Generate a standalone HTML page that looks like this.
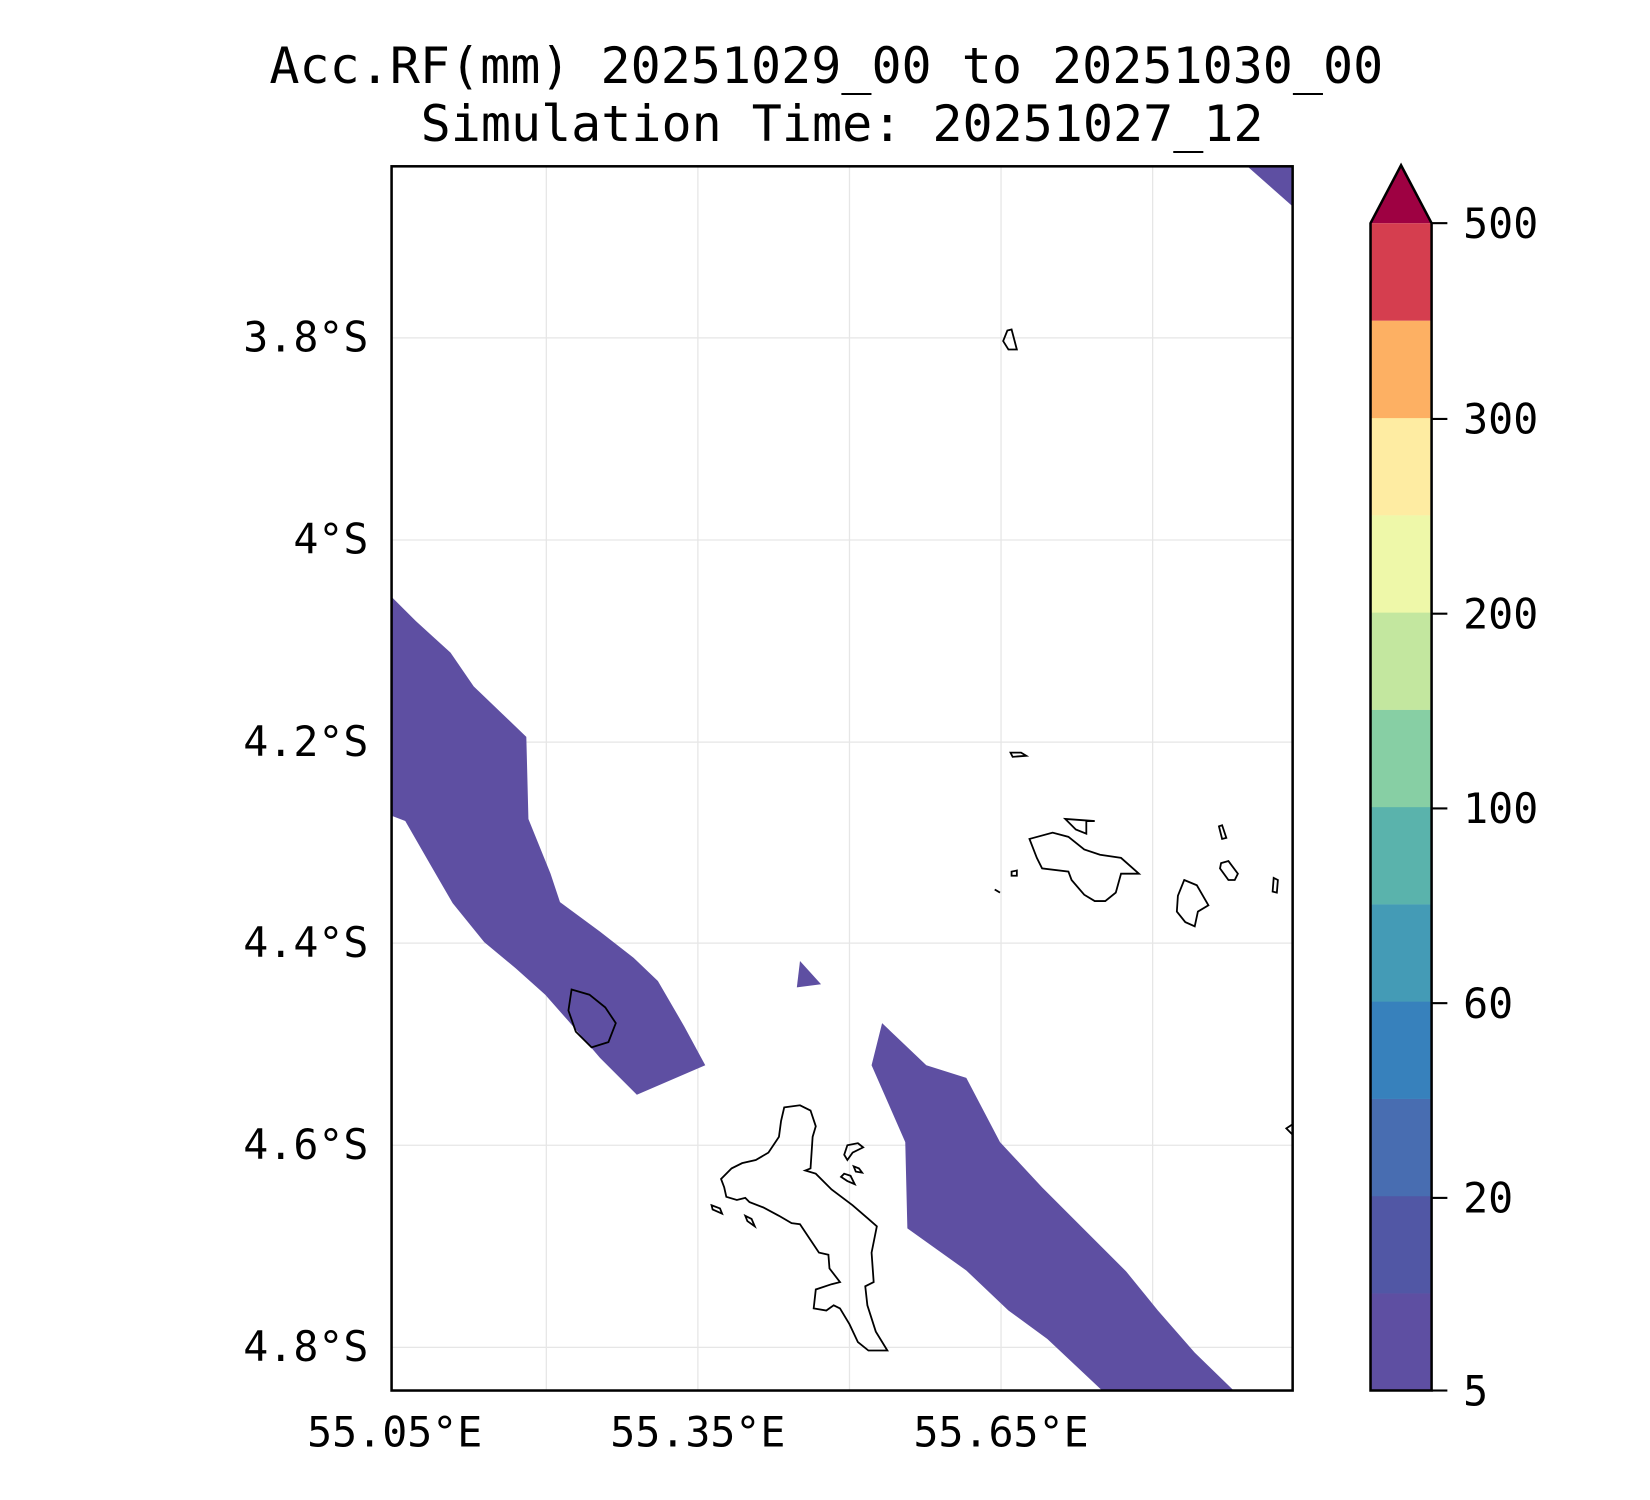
<!DOCTYPE html>
<html><head><meta charset="utf-8"><style>
html,body{margin:0;padding:0;background:#fff;}
svg{display:block;}
text{font-family:"DejaVu Sans Mono","Liberation Mono",monospace;fill:#000;}
</style></head><body>
<svg width="1650" height="1500" viewBox="0 0 1567.5 1425" xmlns="http://www.w3.org/2000/svg">
<rect width="1567.5" height="1425" fill="#fff"/>
<text x="785" y="79" font-size="47.5" text-anchor="middle">Acc.RF(mm) 20251029_00 to 20251030_00</text>
<text x="800" y="134" font-size="47.5" text-anchor="middle">Simulation Time: 20251027_12</text>
<g stroke="#e6e6e6" stroke-width="1.2">
<line x1="519" y1="158" x2="519" y2="1321"/><line x1="663" y1="158" x2="663" y2="1321"/>
<line x1="807" y1="158" x2="807" y2="1321"/><line x1="951" y1="158" x2="951" y2="1321"/>
<line x1="1095" y1="158" x2="1095" y2="1321"/>
<line x1="372" y1="321" x2="1228" y2="321"/><line x1="372" y1="513" x2="1228" y2="513"/>
<line x1="372" y1="705" x2="1228" y2="705"/><line x1="372" y1="896" x2="1228" y2="896"/>
<line x1="372" y1="1088" x2="1228" y2="1088"/><line x1="372" y1="1280" x2="1228" y2="1280"/>
</g>
<g fill="#5e4fa2">
<polygon points="372,567 395,590 428,620 450,652 500,700 502,778 523,830 532,857 570,885 602,910 625,932 650,975 670,1012 605,1040 570,1005 540,970 518,945 490,920 460,895 430,858 408,820 385,780 372,775"/>
<polygon points="760,913 780,935 757,938"/>
<polygon points="838,972 880,1012 918,1024 950,1085 990,1128 1030,1168 1070,1208 1100,1245 1135,1285 1172,1321 1047,1321 995,1272 958,1245 918,1207 862,1167 860,1085 828,1012"/>
<polygon points="1185,158 1228,158 1228,196"/>
</g>
<g fill="none" stroke="#000" stroke-width="1.7">
<polygon points="745,1052 760,1050 770,1055 775,1070 772,1080 770,1110 765,1112 775,1115 790,1130 810,1145 825,1158 833,1165 828,1190 830,1218 822,1222 824,1240 832,1265 843,1283 825,1283 815,1275 807,1258 798,1243 792,1240 785,1245 773,1243 775,1225 790,1220 798,1218 788,1205 787,1192 778,1190 770,1178 760,1163 752,1162 740,1155 725,1147 712,1142 708,1138 700,1140 690,1137 688,1128 685,1120 695,1110 705,1105 718,1102 730,1095 740,1080 742,1065"/>
<polygon points="543,940 560,945 575,957 585,972 578,990 562,995 547,980 540,960"/>
<polygon points="978,797 1000,791 1015,795 1030,807 1045,812 1065,815 1082,830 1065,830 1060,848 1050,856 1040,856 1030,850 1018,836 1015,828 990,825 985,815"/>
<polygon points="1012,778 1040,780 1032,780 1032,792 1022,788"/>
<polygon points="1125,836 1137,841 1148,860 1138,866 1135,880 1126,876 1118,866 1119,851"/>
<polygon points="1160,820 1167,818 1176,830 1173,836 1167,836 1159,825"/>
<polygon points="1158,785 1161,784 1165,796 1161,797"/>
<polygon points="1210,834 1214,836 1213,848 1209,847"/>
<polygon points="960,715 970,715 975,718 962,719"/>
<polygon points="961,828 966,827 966,832 961,832"/>
<polygon points="957,314 961,313 966,332 958,332 953,324"/>
<polygon points="805,1088 815,1086 820,1090 810,1095 805,1102 802,1097"/>
<polygon points="802,1115 808,1117 812,1125 805,1122 799,1118"/>
<polygon points="811,1108 816,1110 819,1114 813,1113"/>
<polygon points="676,1145 684,1148 686,1153 677,1149"/>
<polygon points="708,1155 714,1158 717,1165 710,1160"/>
<polyline points="1228,1068 1222,1072 1228,1078"/>
<polyline points="945,845 950,848"/>
</g>
<rect x="372" y="158" width="856" height="1163" fill="none" stroke="#000" stroke-width="2.4"/>
<g font-size="39.5">
<text x="350" y="334" text-anchor="end">3.8°S</text>
<text x="350" y="526" text-anchor="end">4°S</text>
<text x="350" y="718" text-anchor="end">4.2°S</text>
<text x="350" y="909" text-anchor="end">4.4°S</text>
<text x="350" y="1101" text-anchor="end">4.6°S</text>
<text x="350" y="1293" text-anchor="end">4.8°S</text>
<text x="375" y="1374" text-anchor="middle">55.05°E</text>
<text x="663" y="1374" text-anchor="middle">55.35°E</text>
<text x="951" y="1374" text-anchor="middle">55.65°E</text>
</g>
<g>
<rect x="1302" y="1228.6" width="58" height="92.6" fill="#5e4fa2"/>
<rect x="1302" y="1136.2" width="58" height="92.6" fill="#5157a5"/>
<rect x="1302" y="1043.8" width="58" height="92.6" fill="#486db1"/>
<rect x="1302" y="951.4" width="58" height="92.6" fill="#3781bc"/>
<rect x="1302" y="859" width="58" height="92.6" fill="#449bb6"/>
<rect x="1302" y="766.6" width="58" height="92.6" fill="#5ab3ac"/>
<rect x="1302" y="674.2" width="58" height="92.6" fill="#87cfa4"/>
<rect x="1302" y="581.8" width="58" height="92.6" fill="#c3e79f"/>
<rect x="1302" y="489.4" width="58" height="92.6" fill="#eef8a9"/>
<rect x="1302" y="397" width="58" height="92.6" fill="#feeca2"/>
<rect x="1302" y="304.6" width="58" height="92.6" fill="#fdb063"/>
<rect x="1302" y="212" width="58" height="92.6" fill="#d53e4f"/>
<polygon points="1302,212 1331,157 1360,212" fill="#9e0142"/>
<polygon points="1302,1321 1302,212 1331,157 1360,212 1360,1321" fill="none" stroke="#000" stroke-width="2.4"/>
</g>
<g stroke="#000" stroke-width="2">
<line x1="1360" y1="212" x2="1375" y2="212"/><line x1="1360" y1="398" x2="1375" y2="398"/>
<line x1="1360" y1="583" x2="1375" y2="583"/><line x1="1360" y1="768" x2="1375" y2="768"/>
<line x1="1360" y1="953" x2="1375" y2="953"/><line x1="1360" y1="1138" x2="1375" y2="1138"/>
<line x1="1360" y1="1321" x2="1375" y2="1321"/>
</g>
<g font-size="39.5">
<text x="1390" y="226">500</text><text x="1390" y="412">300</text>
<text x="1390" y="597">200</text><text x="1390" y="782">100</text>
<text x="1390" y="967">60</text><text x="1390" y="1152">20</text>
<text x="1390" y="1335">5</text>
</g>
</svg>
</body></html>
